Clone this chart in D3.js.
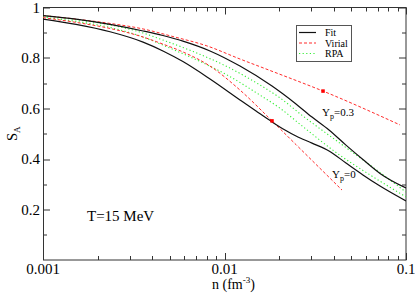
<!DOCTYPE html>
<html>
<head>
<meta charset="utf-8">
<script src="https://cdn.jsdelivr.net/npm/d3@7"></script>
<style>
  body { margin: 0; background: #fff; }
  svg text { font-family: "Liberation Serif", "DejaVu Serif", serif; fill: #000; }
</style>
</head>
<body>
<div id="chart"></div>
<script>
// Data: [n (fm^-3), S_A]
var fitYp03 = [[0.001, 0.968], [0.00152, 0.954], [0.00234, 0.933], [0.00356, 0.907], [0.00458, 0.889],
  [0.0059, 0.867], [0.00832, 0.828], [0.01217, 0.768], [0.01827, 0.689], [0.02477, 0.618],
  [0.03034, 0.566], [0.03765, 0.515], [0.0467, 0.455], [0.0579, 0.398], [0.0719, 0.343], [0.1, 0.285]];
var fitYp0 = [[0.001, 0.954], [0.00152, 0.933], [0.00234, 0.904], [0.00356, 0.863], [0.00458, 0.828],
  [0.0059, 0.786], [0.00832, 0.717], [0.01217, 0.634], [0.01492, 0.59], [0.01827, 0.547],
  [0.02153, 0.515], [0.02477, 0.491], [0.03034, 0.463], [0.03765, 0.432], [0.0467, 0.384],
  [0.0579, 0.337], [0.0719, 0.293], [0.1, 0.234]];
var virialYp03 = [[0.001, 0.968], [0.00152, 0.954], [0.00234, 0.937], [0.00356, 0.915], [0.0052, 0.885],
  [0.008, 0.848], [0.01217, 0.796], [0.01897, 0.743], [0.0349, 0.669], [0.0927, 0.535]];
var virialYp0 = [[0.001, 0.96], [0.00152, 0.941], [0.00234, 0.917], [0.00356, 0.883], [0.00458, 0.855],
  [0.0059, 0.824], [0.00832, 0.768], [0.01217, 0.673], [0.01827, 0.551], [0.02477, 0.457], [0.0444, 0.277]];
var rpaYp03 = [[0.001, 0.968], [0.00152, 0.952], [0.00234, 0.931], [0.00356, 0.899], [0.00458, 0.871],
  [0.0067, 0.826], [0.01032, 0.766], [0.01569, 0.693], [0.02022, 0.642], [0.02707, 0.57],
  [0.04168, 0.471], [0.06333, 0.376], [0.1, 0.269]];
var rpaYp0 = [[0.001, 0.962], [0.00152, 0.945], [0.00234, 0.921], [0.00356, 0.883], [0.00458, 0.851],
  [0.0067, 0.799], [0.01032, 0.733], [0.01569, 0.653], [0.02022, 0.601], [0.02707, 0.528],
  [0.04168, 0.423], [0.06333, 0.337], [0.1, 0.25]];
var virialDots = [[0.01827, 0.551], [0.0349, 0.669]];

var xTicks = [0.001, 0.01, 0.1];
var yTicks = [0.2, 0.4, 0.6, 0.8, 1];

var svgWidth = 415;
var svgHeight = 299;
var margin = { top: 7.5, right: 9, bottom: 39, left: 43 };
var width = svgWidth - margin.left - margin.right;
var height = svgHeight - margin.top - margin.bottom;

var svg = d3.select("#chart")
  .append("svg")
  .attr("width", svgWidth)
  .attr("height", svgHeight)
  .attr("font-family", "Liberation Serif, serif");

var chartGroup = svg.append("g")
  .attr("transform", `translate(${margin.left}, ${margin.top})`);

var xScale = d3.scaleLog().domain([0.001, 0.1]).range([0, width]);
var yScale = d3.scaleLinear().domain([0, 1]).range([height, 0]);

chartGroup.append("defs").append("clipPath").attr("id", "clip")
  .append("rect").attr("width", width).attr("height", height);

// minor ticks
var xMinor = [];
[0.001, 0.01].forEach(function(d) {
  for (var k = 2; k <= 9; k++) xMinor.push(d * k);
});
var yMinor = [0.1, 0.3, 0.5, 0.7, 0.9];

var axisColor = "#333";
var tickG = chartGroup.append("g").attr("stroke", axisColor).attr("stroke-width", 1);

function xTick(v, len) {
  var x = Math.round(xScale(v)) + 0.5;
  tickG.append("line").attr("x1", x).attr("x2", x).attr("y1", height).attr("y2", height - len);
  tickG.append("line").attr("x1", x).attr("x2", x).attr("y1", 0).attr("y2", len);
}
function yTick(v, len) {
  var y = Math.round(yScale(v)) + 0.5;
  tickG.append("line").attr("x1", 0).attr("x2", len).attr("y1", y).attr("y2", y);
  tickG.append("line").attr("x1", width).attr("x2", width - len).attr("y1", y).attr("y2", y);
}
xMinor.forEach(function(v) { xTick(v, 4); });
xTicks.forEach(function(v) { xTick(v, 7); });
yMinor.forEach(function(v) { yTick(v, 4); });
yTicks.forEach(function(v) { yTick(v, 7); });

// frame
chartGroup.append("rect")
  .attr("x", 0.5).attr("y", 0)
  .attr("width", width - 0.5).attr("height", height)
  .attr("fill", "none").attr("stroke", axisColor).attr("stroke-width", 1);

// tick labels
chartGroup.selectAll(".xlab").data(xTicks).enter().append("text")
  .attr("x", d => xScale(d))
  .attr("y", height + 14)
  .attr("text-anchor", "middle")
  .attr("font-size", "15px")
  .text(d => d);

chartGroup.selectAll(".ylab").data(yTicks).enter().append("text")
  .attr("x", -3)
  .attr("y", d => yScale(d) + 5)
  .attr("text-anchor", "end")
  .attr("font-size", "15px")
  .text(d => d);

// curves
var line = d3.line()
  .x(d => xScale(d[0]))
  .y(d => yScale(d[1]))
  .curve(d3.curveMonotoneX);

var plot = chartGroup.append("g").attr("clip-path", "url(#clip)");

var red = "#ff2a2a";
var green = "#33ee33";

function drawLine(data, color, dash, w) {
  plot.append("path")
    .datum(data)
    .attr("d", line)
    .attr("fill", "none")
    .attr("stroke", color)
    .attr("stroke-width", w)
    .attr("stroke-dasharray", dash);
}
drawLine(rpaYp03, green, "1.2,2.4", 1.1);
drawLine(rpaYp0, green, "1.2,2.4", 1.1);
drawLine(virialYp03, red, "3,2", 1);
drawLine(virialYp0, red, "3,2", 1);
drawLine(fitYp03, "#111", null, 1.2);
drawLine(fitYp0, "#111", null, 1.2);

plot.selectAll(".dot").data(virialDots).enter().append("rect")
  .attr("x", d => xScale(d[0]) - 1.75)
  .attr("y", d => yScale(d[1]) - 1.75)
  .attr("width", 3.5).attr("height", 3.5)
  .attr("fill", "#ff0000");

// curve labels
function ypLabel(x, y, val) {
  var t = svg.append("text").attr("x", x).attr("y", y).attr("font-size", "11px");
  t.append("tspan").text("Y");
  t.append("tspan").attr("font-size", "8px").attr("dy", 3).text("p");
  t.append("tspan").attr("dy", -3).text("=" + val);
}
ypLabel(322, 116, "0.3");
ypLabel(332, 178, "0");

svg.append("text")
  .attr("x", 87).attr("y", 221)
  .attr("font-size", "15px")
  .text("T=15 MeV");

// legend
var legend = svg.append("g");
legend.append("rect")
  .attr("x", 296.5).attr("y", 25.5)
  .attr("width", 55).attr("height", 36)
  .attr("fill", "#fff").attr("stroke", "#555").attr("stroke-width", 1);
var legendItems = [
  { label: "Fit", color: "#111", dash: null, w: 1.2 },
  { label: "Virial", color: red, dash: "3,2", w: 1 },
  { label: "RPA", color: green, dash: "1.2,2.4", w: 1.1 }
];
legendItems.forEach(function(d, i) {
  var y = 32.5 + i * 10.5;
  legend.append("line")
    .attr("x1", 299).attr("x2", 316).attr("y1", y).attr("y2", y)
    .attr("stroke", d.color).attr("stroke-width", d.w).attr("stroke-dasharray", d.dash);
  legend.append("text")
    .attr("x", 325).attr("y", y + 3.5)
    .attr("font-size", "10px")
    .text(d.label);
});

// axis titles
var xTitle = svg.append("text")
  .attr("x", 212).attr("y", 289)
  .attr("font-size", "14px");
xTitle.append("tspan").text("n (fm");
xTitle.append("tspan").attr("font-size", "9px").attr("dy", -6).text("-3");
xTitle.append("tspan").attr("dy", 6).text(")");

var yTitle = svg.append("text")
  .attr("transform", "translate(17, 141) rotate(-90)")
  .attr("font-size", "14.5px");
yTitle.append("tspan").text("S");
yTitle.append("tspan").attr("font-size", "9px").attr("dy", 3).text("A");
</script>
</body>
</html>
